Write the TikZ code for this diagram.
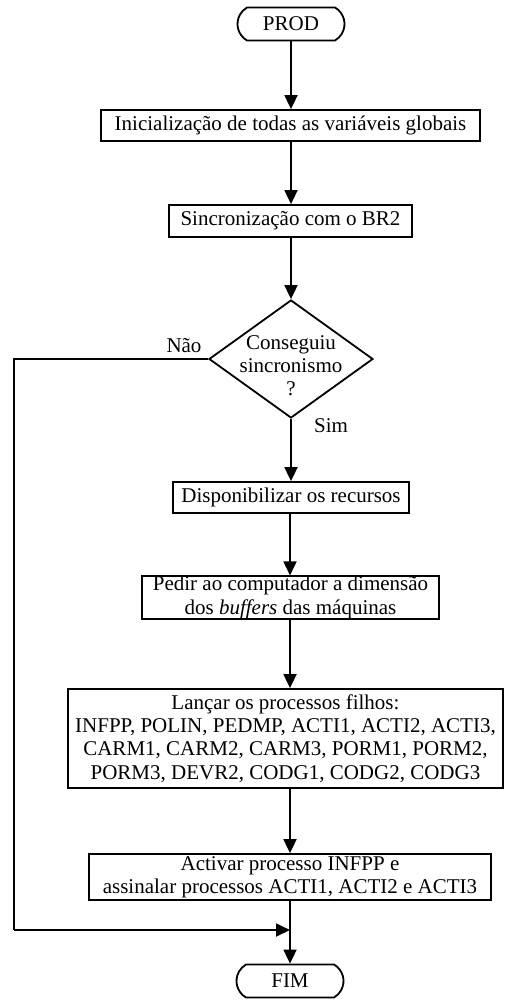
\documentclass[tikz,border=0pt]{standalone}
\usepackage{fontspec}
\setmainfont{Liberation Serif}
\usetikzlibrary{arrows.meta,shapes.geometric,shapes.misc}

\begin{document}
\begin{tikzpicture}[x=1pt,y=-1pt,
  every node/.style={font=\fontsize{21}{23.3}\selectfont},
  terminal/.style={draw,line width=1.8pt,rounded rectangle,rounded rectangle arc length=120,
    minimum width=107pt,minimum height=33pt,inner sep=0pt},
  procbox/.style={draw,line width=1.8pt,rectangle,align=center,inner xsep=0pt,inner ysep=0pt},
  decision/.style={draw,line width=1.8pt,diamond,minimum width=164pt,minimum height=118pt,inner sep=0pt},
  flow/.style={line width=1.8pt,-{Triangle[width=13pt,length=14pt]}},
  plain/.style={line width=1.8pt},
  tag/.style={inner sep=0pt}]
  \useasboundingbox (0,0) rectangle (504,1001);

  % start and end terminals
  \node[terminal] (prod) at (291,24) {PROD};
  \node[terminal] (fim) at (290,981) {FIM};

  % process steps
  \node[procbox,minimum width=379pt,minimum height=31pt] (init) at (290.5,125.5)
    {Inicialização de todas as variáveis globais};
  \node[procbox,minimum width=243pt,minimum height=32pt] (sync) at (290.5,221)
    {Sincronização com o BR2};

  % decision
  \node[decision] (dec) at (291,359) {};
  \node[tag,align=center,font=\fontsize{21}{23}\selectfont] (dectext) at (291,366)
    {Conseguiu\\sincronismo\\?};

  \node[procbox,minimum width=236pt,minimum height=31pt] (disp) at (291,497.5)
    {Disponibilizar os recursos};
  \node[procbox,minimum width=297pt,minimum height=41pt] (pedir) at (290.5,597.5)
    {Pedir ao computador a dimensão\\dos \textit{buffers} das máquinas};
  \node[procbox,minimum width=435pt,minimum height=99pt] (lancar) at (285.5,738.5)
    {Lançar os processos filhos:\\INFPP, POLIN, PEDMP, ACTI1, ACTI2, ACTI3,\\
     CARM1, CARM2, CARM3, PORM1, PORM2,\\PORM3, DEVR2, CODG1, CODG2, CODG3};
  \node[procbox,minimum width=402pt,minimum height=46pt] (activar) at (290,877)
    {Activar processo INFPP e\\assinalar processos ACTI1, ACTI2 e ACTI3};

  % branch labels
  \node[tag] (nao) at (184,346) {Não};
  \node[tag] (sim) at (331,426) {Sim};

  % helper points for the "Não" path
  \coordinate (join) at (290,930);
  \coordinate (leftup) at (14,359);
  \coordinate (leftdown) at (14,930);

  % connectors
  \draw[flow] (prod.south) -- (prod.south |- init.north);
  \draw[flow] (init.south -| prod.south) -- (prod.south |- sync.north);
  \draw[flow] (sync.south -| dec.north) -- (dec.north);
  \draw[flow] (dec.south) -- (dec.south |- disp.north);
  \draw[flow] (disp.south -| join) -- (join |- pedir.north);
  \draw[flow] (pedir.south -| join) -- (join |- lancar.north);
  \draw[flow] (lancar.south -| join) -- (join |- activar.north);
  \draw[flow] (activar.south -| join) -- (join |- fim.north);
  \draw[plain] (dec.west) -- (leftup) -- (leftdown);
  \draw[flow] (leftdown) -- (join);
\end{tikzpicture}
\end{document}
